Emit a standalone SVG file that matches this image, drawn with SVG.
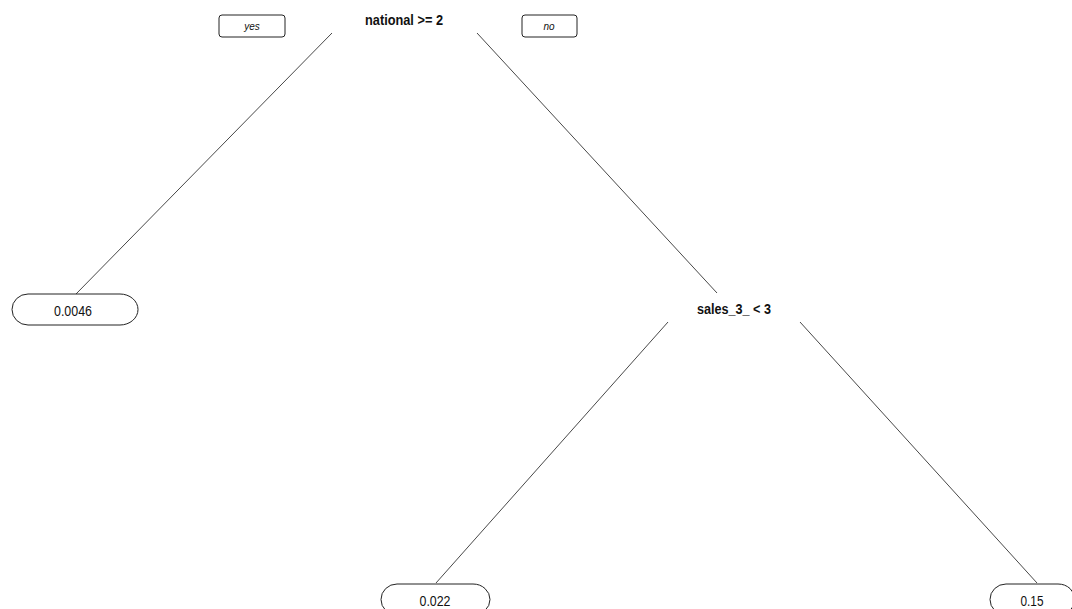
<svg xmlns="http://www.w3.org/2000/svg" width="1072" height="609" viewBox="0 0 1072 609">
  <style>
    .edge { stroke: #333; stroke-width: 0.9; fill: none; }
    .leaf { fill: #fff; stroke: #222; stroke-width: 1; }
    .lbl { fill: #fff; stroke: #222; stroke-width: 1; }
    .split { font-family: "Liberation Sans", Arial, sans-serif; font-weight: bold; font-size: 14px; fill: #111; text-anchor: middle; }
    .val { font-family: "Liberation Sans", Arial, sans-serif; font-size: 14px; fill: #111; text-anchor: middle; }
    .yn { font-family: "Liberation Sans", Arial, sans-serif; font-style: italic; font-size: 10px; fill: #111; text-anchor: middle; }
  </style>
  <rect width="1072" height="609" fill="#fff"/>

  <g id="connectors">
    <line class="edge" x1="332" y1="33" x2="76" y2="294"/>
    <line class="edge" x1="477" y1="33" x2="717" y2="293"/>
    <line class="edge" x1="668" y1="322" x2="436" y2="583"/>
    <line class="edge" x1="800" y1="322" x2="1037" y2="583"/>
  </g>

  <g id="label-yes">
    <rect class="lbl" x="219" y="15" width="66" height="22" rx="3"/>
    <text class="yn" x="252" y="30">yes</text>
  </g>
  <g id="label-no">
    <rect class="lbl" x="522" y="15" width="55" height="22" rx="3"/>
    <text class="yn" x="549" y="30">no</text>
  </g>

  <g id="node-root">
    <text class="split" x="404" y="25" textLength="78" lengthAdjust="spacingAndGlyphs">national &gt;= 2</text>
  </g>

  <g id="node-sales">
    <text class="split" x="734" y="314" textLength="74" lengthAdjust="spacingAndGlyphs">sales_3_  &lt; 3</text>
  </g>

  <g id="leaf-0.0046">
    <path class="leaf" d="M28,294 L120,294 A18 15.5 0 0 1 120,325 L28,325 A16 15.5 0 0 1 28,294 Z"/>
    <text class="val" x="73" y="316" textLength="38" lengthAdjust="spacingAndGlyphs">0.0046</text>
  </g>

  <g id="leaf-0.022">
    <path class="leaf" d="M397,584 L473,584 A17 15.5 0 0 1 473,615 L397,615 A16 15.5 0 0 1 397,584 Z"/>
    <text class="val" x="435" y="606" textLength="31" lengthAdjust="spacingAndGlyphs">0.022</text>
  </g>

  <g id="leaf-0.15">
    <path class="leaf" d="M1006,584 L1058,584 A17 15.5 0 0 1 1058,615 L1006,615 A16 15.5 0 0 1 1006,584 Z"/>
    <text class="val" x="1032" y="606" textLength="23" lengthAdjust="spacingAndGlyphs">0.15</text>
  </g>
</svg>
